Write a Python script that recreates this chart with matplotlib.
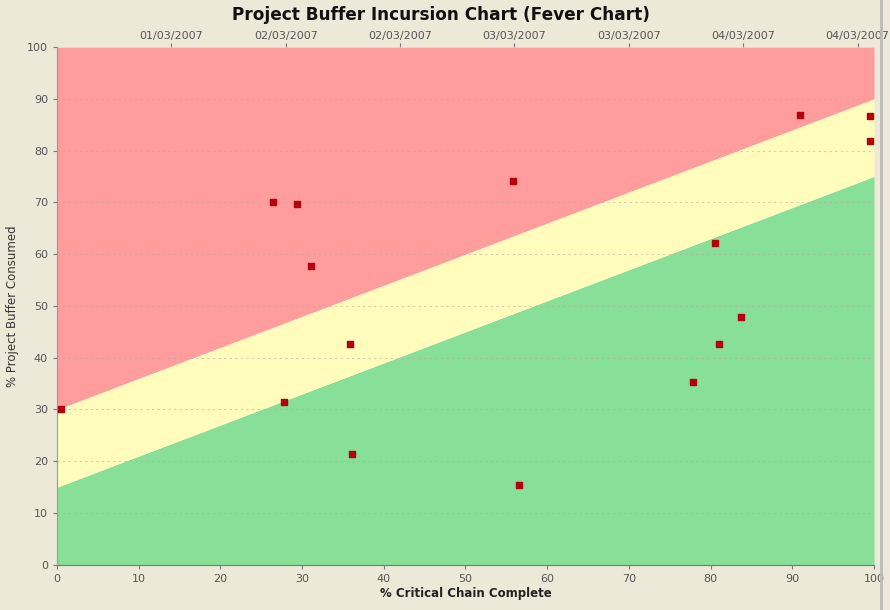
import numpy as np
import matplotlib.pyplot as plt

# chart data
pct_chain = [0.5, 26.4, 29.4, 31.1, 27.8, 35.9, 36.1, 55.8, 56.6, 77.8, 80.5, 81.0, 83.7, 91.0, 99.5, 99.5]
pct_buffer = [30.0, 70.1, 69.7, 57.8, 31.4, 42.7, 21.4, 74.1, 15.4, 35.3, 62.2, 42.7, 47.9, 86.9, 86.7, 81.9]

# zone boundaries (buffer % at 0 and 100 % chain complete)
green_limit = [15, 75]
yellow_limit = [30, 90]

top_ticks = [14, 28, 42, 56, 70, 84, 98]
top_labels = ["01/03/2007", "02/03/2007", "02/03/2007", "03/03/2007",
              "03/03/2007", "04/03/2007", "04/03/2007"]

bg = "#ECE9D8"
fig = plt.figure(figsize=(8.9, 6.1), dpi=100, facecolor=bg)
ax = fig.add_axes([0.064, 0.074, 0.918, 0.849])

x = np.array([0, 100])
ax.fill_between(x, 0, green_limit, color="#88E098", lw=0)
ax.fill_between(x, green_limit, yellow_limit, color="#FFFCBC", lw=0)
ax.fill_between(x, yellow_limit, 100, color="#FF9C9C", lw=0)

for yv in range(10, 100, 10):
    ax.axhline(yv, color="#C8A0A0", lw=0.8, ls=(0, (2, 3)), alpha=0.55, zorder=1)

ax.scatter(pct_chain, pct_buffer, marker="s", s=24, color="#B5000E", zorder=3)

ax.set_xlim(0, 100)
ax.set_ylim(0, 100)
ax.set_xticks(range(0, 101, 10))
ax.set_yticks(range(0, 101, 10))
ax.tick_params(colors="#777777", labelsize=8, length=3, labelcolor="#555555")
for s in ["top", "right"]:
    ax.spines[s].set_visible(False)
ax.spines["left"].set_color("#999999")
ax.spines["bottom"].set_color("#777777")
ax.spines["bottom"].set_linestyle((0, (2, 1)))

ax.set_xlabel("% Critical Chain Complete", fontsize=8.5, fontweight="bold", color="#222222", labelpad=2)
ax.set_ylabel("% Project Buffer Consumed", fontsize=8.5, color="#333333", labelpad=6)

top = ax.secondary_xaxis("top")
top.set_xticks(top_ticks)
top.set_xticklabels(top_labels)
top.tick_params(colors="#777777", labelsize=8, length=3, labelcolor="#555555", pad=1)
top.spines["top"].set_visible(False)

fig.suptitle("Project Buffer Incursion Chart (Fever Chart)", x=0.495, y=0.99,
             fontsize=12.2, fontweight="bold", color="#111111")

fig.add_artist(plt.Line2D([0.99, 0.99], [0.0, 1.0], color="#BBBBBB", lw=2))

fig.savefig("out.png", dpi=100, facecolor=bg)
